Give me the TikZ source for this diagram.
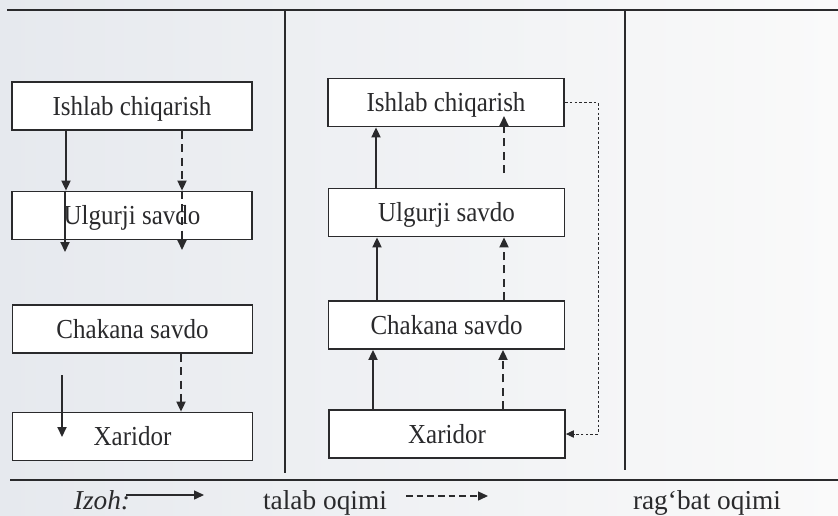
\documentclass[tikz,border=0pt]{standalone}
\usepackage{fontspec}
\usepackage{graphicx}
\setmainfont{Liberation Serif}
\usetikzlibrary{arrows.meta}
\definecolor{ink}{HTML}{2A2A2C}
\definecolor{paperL}{HTML}{E6E9EE}
\definecolor{paperR}{HTML}{FAFAFA}
\newcommand{\sqz}[1]{\scalebox{0.91}[1]{#1}}
\begin{document}
\begin{tikzpicture}[x=0.75pt,y=-0.75pt,
  box/.style={draw=ink,line width=1.35pt,fill=white,minimum height=36pt,inner sep=0pt,
    font=\fontsize{20.6}{24}\selectfont,text=ink,text height=13.6pt,text depth=0pt},
  lbox/.style={box,minimum width=180pt},
  mbox/.style={box,minimum width=177pt},
  arr/.style={draw=ink,line width=1.2pt,-{Triangle[length=7.5pt,width=6.8pt]}},
  darr/.style={arr,dash pattern=on 6pt off 4pt},
  farr/.style={draw=ink,line width=0.75pt,dash pattern=on 2pt off 1.6pt,-{Triangle[length=6pt,width=5.5pt]}},
  rule/.style={draw=ink,line width=1.3pt},
  legend/.style={font=\fontsize{20.5}{24}\selectfont,text=ink,anchor=base,inner sep=0pt}]
\useasboundingbox (0,0) rectangle (838,515);
\shade[left color=paperL,right color=paperR] (0,0) rectangle (838,515);
% frame lines
\coordinate (tl) at (7,10);   \coordinate (tr) at (838,10);
\coordinate (bl) at (10,480); \coordinate (br) at (838,480);
\coordinate (v1a) at (285,10); \coordinate (v1b) at (285,473);
\coordinate (v2a) at (625,10); \coordinate (v2b) at (625,470);
\draw[rule] (tl) -- (tr);
\draw[rule] (bl) -- (br);
\draw[rule] (v1a) -- (v1b);
\draw[rule] (v2a) -- (v2b);
% left column
\node[lbox] (b1) at (132,106) {\sqz{Ishlab chiqarish}};
\node[lbox] (b2) at (132,215.5) {\sqz{Ulgurji savdo}};
\node[lbox] (b3) at (132.5,329) {\sqz{Chakana savdo}};
\node[lbox] (b4) at (132.5,436.5) {\sqz{Xaridor}};
\coordinate (x66) at (66,0); \coordinate (x182) at (182,0);
\coordinate (x181) at (181,0);
\coordinate (la) at (65,252); \coordinate (lb) at (182,250);
\coordinate (lc) at (62,375); \coordinate (ld) at (62,437);
\draw[arr] (b1.south -| x66) -- (b2.north -| x66);
\draw[arr] (b2.north -| la) -- (la);
\draw[darr] (b1.south -| x182) -- (b2.north -| x182);
\draw[darr] (b2.north -| lb) -- (lb);
\draw[arr] (lc) -- (ld);
\draw[darr] (b3.south -| x181) -- (b4.north -| x181);
% middle column
\node[mbox] (m1) at (446,102.5) {\sqz{Ishlab chiqarish}};
\node[mbox] (m2) at (446.5,212.5) {\sqz{Ulgurji savdo}};
\node[mbox] (m3) at (446.5,325) {\sqz{Chakana savdo}};
\node[mbox] (m4) at (447,434) {\sqz{Xaridor}};
\coordinate (s1) at (376,0); \coordinate (s2) at (377,0); \coordinate (s3) at (373,0);
\coordinate (d2) at (504,0); \coordinate (d3) at (503,0);
\coordinate (ma) at (504,173); \coordinate (mb) at (504,116);
\draw[arr] (m2.north -| s1) -- (m1.south -| s1);
\draw[darr] (ma) -- (mb);
\draw[arr] (m3.north -| s2) -- (m2.south -| s2);
\draw[darr] (m3.north -| d2) -- (m2.south -| d2);
\draw[arr] (m4.north -| s3) -- (m3.south -| s3);
\draw[darr] (m4.north -| d3) -- (m3.south -| d3);
\coordinate (fx) at (598,0);
\draw[farr] (m1.east) -- (m1.east -| fx) |- (m4.east);
% legend
\node[legend,font=\fontsize{20.5}{24}\selectfont\itshape] (iz) at (102,509) {Izoh:};
\coordinate (ea) at (126,495); \coordinate (eb) at (204,495);
\draw[arr,line width=0.9pt] (ea) -- (eb);
\node[legend] (t1) at (325,509) {talab oqimi};
\coordinate (ec) at (406,496); \coordinate (ed) at (488,496);
\draw[darr,line width=0.9pt,dash pattern=on 5pt off 3pt] (ec) -- (ed);
\node[legend] (t2) at (707,509) {rag‘bat oqimi};
\end{tikzpicture}
\end{document}
